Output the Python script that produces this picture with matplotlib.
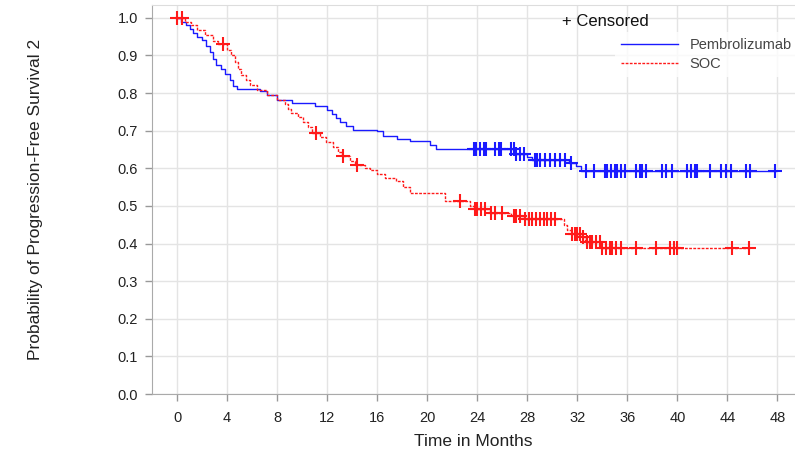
import numpy as np
import matplotlib
matplotlib.use("Agg")
import matplotlib.pyplot as plt
from matplotlib.lines import Line2D

plt.rcParams['font.family'] = ['Liberation Sans', 'DejaVu Sans']

# Kaplan-Meier steps: (time of drop, survival after drop)
pembro_t = [0, 0.3, 0.7, 1.0, 1.3, 1.6, 2.0, 2.3, 2.6, 2.9, 3.1, 3.5, 3.8, 4.2, 4.5, 4.8,
            6.6, 7.2, 8.0, 9.2, 11.0, 12.0, 12.4, 12.7, 13.0, 13.5, 14.1, 16.0, 16.5,
            17.6, 18.6, 20.2, 20.7, 27.0, 28.0, 28.4, 31.3, 31.9, 32.3, 47.9]
pembro_s = [1.0, 0.99, 0.98, 0.97, 0.96, 0.95, 0.94, 0.925, 0.91, 0.89, 0.875, 0.865, 0.85,
            0.835, 0.82, 0.812, 0.805, 0.795, 0.782, 0.773, 0.765, 0.756, 0.745, 0.733,
            0.722, 0.712, 0.703, 0.698, 0.685, 0.678, 0.672, 0.663, 0.650, 0.638, 0.629,
            0.623, 0.614, 0.605, 0.594, 0.594]
pembro_cens = [23.7, 23.9, 24.2, 24.5, 24.7, 25.4, 25.7, 25.9, 26.7, 26.9, 27.1, 27.4, 27.7,
               28.6, 28.8, 29.0, 29.4, 29.8, 30.2, 30.6, 31.0, 31.5, 32.7, 33.3, 34.2, 34.4,
               34.7, 35.0, 35.2, 35.5, 35.8, 36.7, 37.0, 37.2, 37.5, 38.8, 39.1, 39.6, 40.8,
               41.1, 41.4, 41.6, 42.6, 43.5, 43.9, 44.3, 45.5, 45.8, 47.8]

soc_t = [0, 0.6, 1.1, 1.6, 2.2, 2.9, 3.3, 4.0, 4.3, 4.6, 4.9, 5.1, 5.5, 5.8, 6.4, 7.2, 8.0,
         8.6, 8.9, 9.1, 9.7, 10.1, 10.5, 10.8, 11.4, 11.9, 12.5, 12.9, 13.2, 13.8, 14.2,
         15.0, 15.4, 16.0, 16.6, 17.5, 18.1, 18.6, 21.4, 23.4, 23.7, 25.0, 26.7, 27.7,
         30.9, 31.2, 31.5, 32.4, 32.6, 33.9, 45.8]
soc_s = [1.0, 0.99, 0.98, 0.968, 0.955, 0.937, 0.93, 0.915, 0.9, 0.882, 0.865, 0.849, 0.835,
         0.822, 0.809, 0.796, 0.782, 0.77, 0.758, 0.747, 0.735, 0.722, 0.71, 0.695, 0.683,
         0.670, 0.657, 0.644, 0.632, 0.620, 0.610, 0.602, 0.595, 0.586, 0.575, 0.566,
         0.549, 0.533, 0.513, 0.50, 0.493, 0.482, 0.472, 0.464, 0.448, 0.437, 0.424,
         0.416, 0.404, 0.389, 0.389]
soc_cens = [0.0, 0.4, 3.65, 11.1, 13.3, 14.35, 22.6, 23.8, 24.0, 24.3, 24.6, 25.1, 25.4, 26.0,
            26.9, 27.1, 27.4, 27.8, 28.1, 28.4, 28.7, 29.0, 29.3, 29.6, 29.9, 30.2, 31.6,
            31.8, 32.0, 32.2, 32.45, 32.8, 33.0, 33.2, 33.5, 33.8, 34.0, 34.3, 34.6, 34.8,
            35.1, 35.5, 36.7, 38.3, 39.4, 39.7, 40.0, 44.4, 45.7]

xticks = list(range(0, 49, 4))
yticks = [i / 10 for i in range(11)]

BLUE = '#1a1aff'
RED = '#ff1a1a'


def surv_at(times, surv, c):
    idx = np.searchsorted(times, c, side='right') - 1
    return np.asarray(surv)[idx]


fig = plt.figure(figsize=(7.95, 4.58), dpi=100)
ax = fig.add_axes([152 / 795, (458 - 394) / 458, 1 - 152 / 795, (394 - 5) / 458])

ax.step(pembro_t, pembro_s, where='post', color=BLUE, lw=1.0)
ax.step(soc_t, soc_s, where='post', color=RED, lw=1.0, ls=(0, (2, 1)))

ax.plot(pembro_cens, surv_at(pembro_t, pembro_s, pembro_cens), ls='none', marker='+',
        ms=10, mew=1.5, color=BLUE)
ax.plot(soc_cens, surv_at(soc_t, soc_s, soc_cens), ls='none', marker='+',
        ms=10, mew=1.5, color=RED)

ax.set_xlim(-2.0, 49.4)
ax.set_ylim(0, 1.034)
ax.set_xticks(xticks)
ax.set_yticks(yticks)
ax.set_yticklabels(['%.1f' % v for v in yticks])
ax.grid(True, color='#e4e4e4', lw=1.0)
ax.set_axisbelow(True)

for side in ['left', 'bottom']:
    ax.spines[side].set_color('#aaaaaa')
ax.spines['top'].set_color('#dddddd')
ax.spines['right'].set_visible(False)
ax.tick_params(axis='both', colors='#999999', labelcolor='#222222', labelsize=10.5,
               length=5, width=1)
ax.tick_params(axis='x', pad=7)
ax.tick_params(axis='y', pad=5)

ax.set_xlabel('Time in Months', fontsize=12.5, color='#222222', labelpad=7)
ax.set_ylabel('Probability of Progression-Free Survival 2', fontsize=12.5,
              color='#222222', labelpad=54)

handles = [Line2D([], [], color=BLUE, lw=1.0),
           Line2D([], [], color=RED, lw=1.0, ls=(0, (2, 1)))]
leg = ax.legend(handles, ['Pembrolizumab', 'SOC'], loc='upper left',
                bbox_to_anchor=(0.72, 0.93), frameon=True, fontsize=10.5,
                handlelength=3.9, handletextpad=0.8, borderaxespad=0, labelspacing=0.35,
                fancybox=False)
leg.get_frame().set_facecolor('white')
leg.get_frame().set_edgecolor('none')
for t in leg.get_texts():
    t.set_color('#444444')
ax.text(0.638, 0.958, '+ Censored', transform=ax.transAxes, fontsize=12,
        color='#111111', ha='left', va='center')

fig.savefig('out.png', dpi=100)
